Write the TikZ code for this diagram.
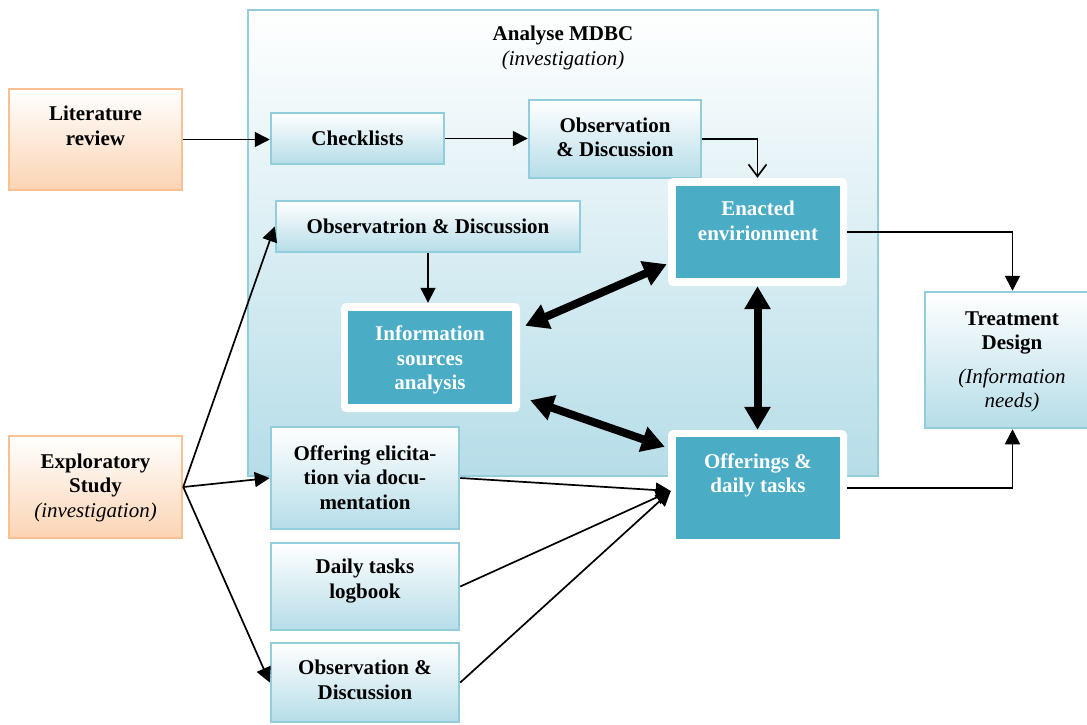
\documentclass[tikz,border=0pt]{standalone}
\usepackage{fontspec}
\setmainfont{Liberation Serif}
\usetikzlibrary{arrows.meta,calc}
\definecolor{bluebd}{HTML}{92CDDC}
\definecolor{bluebot}{HTML}{B6DDE8}
\definecolor{orangebd}{HTML}{FAC090}
\definecolor{orangebot}{HTML}{FBD4B4}
\definecolor{tealfill}{HTML}{4BACC6}
\begin{document}
\begin{tikzpicture}[x=1pt,y=-1pt,
  font=\fontsize{21}{24.5}\selectfont\bfseries,
  container/.style={draw=bluebd, line width=2.5pt, top color=white, bottom color=bluebot, inner sep=0pt},
  stepbox/.style={draw=bluebd, line width=2.5pt, top color=white, bottom color=bluebot, inner sep=0pt},
  srcbox/.style={draw=orangebd, line width=2.5pt, top color=white, bottom color=orangebot, inner sep=0pt},
  hubframe/.style={fill=white, rounded corners=5pt, inner sep=0pt},
  hub/.style={fill=tealfill, inner sep=0pt},
  txt/.style={align=center, inner sep=0pt},
  hubtxt/.style={align=center, inner sep=0pt, text=white},
  flow/.style={line width=1.7pt, -{Triangle[length=15pt,width=15pt]}},
  openflow/.style={line width=1.7pt, -{Straight Barb[length=12pt,width=18pt]}},
  link/.style={line width=8pt, {Triangle[length=23pt,width=25pt]}-{Triangle[length=23pt,width=25pt]}},
]
\useasboundingbox (0,0) rectangle (1087,724);

% enclosing analysis block
\node[container, minimum width=630pt, minimum height=466pt] (mdbc) at (563,243) {};
\node[txt] (mdbc-t) at (563,48) {Analyse MDBC\\[1pt]{\mdseries\itshape (investigation)}};

% sources on the left
\node[srcbox, minimum width=173pt, minimum height=101pt] (lit) at (95.5,139.5) {};
\node[txt] (lit-t) at (95.5,126) {Literature\\review};
\node[srcbox, minimum width=173pt, minimum height=102pt] (expl) at (95.5,487) {};
\node[txt] (expl-t) at (95.5,487.5) {Exploratory\\Study\\{\mdseries\itshape (investigation)}};

% steps inside the block
\node[stepbox, minimum width=173pt, minimum height=51pt] (chk) at (357.5,138.5) {};
\node[txt] (chk-t) at (357.5,138) {Checklists};
\node[stepbox, minimum width=172pt, minimum height=78pt] (obs1) at (615,139) {};
\node[txt] (obs1-t) at (615,137.5) {Observation\\\& Discussion};
\node[stepbox, minimum width=304pt, minimum height=51pt] (obd) at (428,226.5) {};
\node[txt] (obd-t) at (428,226) {Observatrion \& Discussion};

% highlighted analysis nodes
\node[hubframe, minimum width=179pt, minimum height=109pt] (info) at (430.5,357.5) {};
\node[hub, minimum width=164pt, minimum height=93pt] (info-in) at (430,357.5) {};
\node[hubtxt] (info-t) at (430,360) {Information\\sources\\analysis};
\node[hubframe, minimum width=179pt, minimum height=108pt] (enact) at (757.5,232) {};
\node[hub, minimum width=164pt, minimum height=92pt] (enact-in) at (758,232) {};
\node[hubtxt] (enact-t) at (758,221) {Enacted\\envirionment};
\node[hubframe, minimum width=179pt, minimum height=116pt] (off) at (757.5,488) {};
\node[hub, minimum width=164pt, minimum height=102pt] (off-in) at (758,488) {};
\node[hubtxt] (off-t) at (758,475.5) {Offerings \&\\daily tasks};

% result
\node[stepbox, minimum width=165pt, minimum height=136pt] (treat) at (1007.5,360) {};
\node[txt] (treat-t) at (1012,362) {Treatment\\Design\\[9pt]{\mdseries\itshape (Information}\\{\mdseries\itshape needs)}};

% exploratory sub-steps
\node[stepbox, minimum width=188pt, minimum height=102pt] (elic) at (365,478) {};
\node[txt] (elic-t) at (365,477.5) {Offering elicita-\\tion via docu-\\mentation};
\node[stepbox, minimum width=188pt, minimum height=87pt] (dtl) at (365,586.5) {};
\node[txt] (dtl-t) at (365,581) {Daily tasks\\logbook};
\node[stepbox, minimum width=188pt, minimum height=79pt] (obs3) at (365,682.5) {};
\node[txt] (obs3-t) at (365,680) {Observation \&\\Discussion};

% connectors
\draw[flow] (lit.east) -- (lit.east -| chk.west);
\draw[flow] (chk.east) -- (chk.east -| obs1.west);
\draw[openflow] (obs1.east) -| (enact.north);
\draw[flow] (obd.south) -- (obd.south |- info.north);
\draw[flow] (enact.east) -| ([xshift=5pt]treat.north);
\draw[flow] (off.east) -| ([xshift=5pt]treat.south);

\draw[link] ($(info.north east)+(5,23)$) -- ($(enact.south west)+(-1,-22)$);
\draw[link] ($(info.south east)+(10,-12)$) -- ($(off.north west)+(-3,17)$);
\draw[link] (enact.south) -- (off.north);

\draw[flow] (expl.east) -- (obd.west);
\draw[flow] (expl.east) -- (elic.west);
\draw[flow] (expl.east) -- (obs3.west);

\coordinate (offin) at ($(off.west)+(3,3)$);
\draw[flow] (elic.east) -- (offin);
\draw[flow] (dtl.east) -- (offin);
\draw[flow] (obs3.east) -- (offin);
\end{tikzpicture}
\end{document}
